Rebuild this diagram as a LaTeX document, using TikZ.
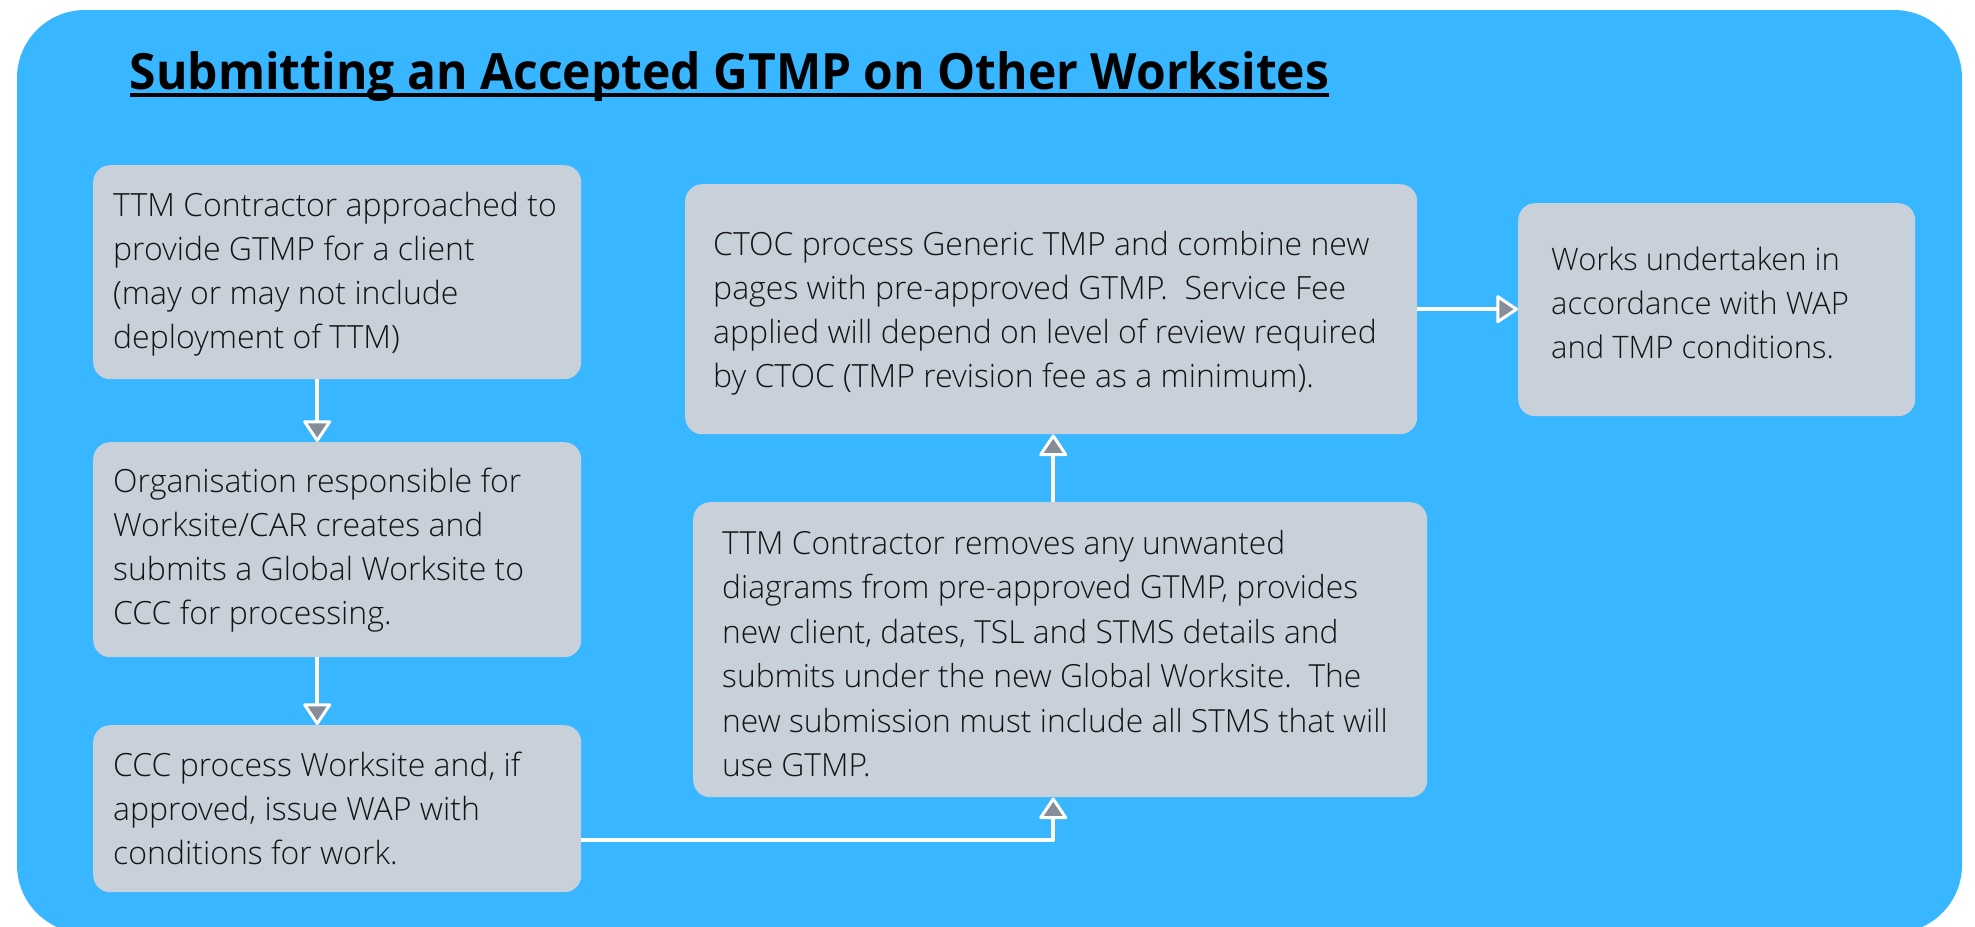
\documentclass[tikz,border=0pt]{standalone}
\usepackage{fontspec}
\IfFontExistsTF{Open Sans Light}
  {\setmainfont{Open Sans Light}[BoldFont={Open Sans Bold}]}
  {\setmainfont{Open Sans}}
\newfontfamily\titlefont{Open Sans}
\usetikzlibrary{arrows.meta}
\definecolor{bgblue}{HTML}{38B6FF}
\definecolor{boxgrey}{HTML}{C8D0DA}
\definecolor{tipgrey}{HTML}{868C98}
\definecolor{txtcol}{HTML}{141414}
\tikzset{
  stepbox/.style={draw=none, fill=boxgrey, rounded corners=17pt, inner sep=0pt, anchor=north west},
  txt/.style={anchor=west, align=left, inner sep=0pt, text=txtcol, font=\fontsize{32}{44}\selectfont},
  arr/.style={draw=white, line width=4pt, line join=round,
    -{Triangle[length=23pt, width=30pt, fill=tipgrey, line width=3pt, line join=round]}},
}
\begin{document}
\begin{tikzpicture}[x=1pt, y=-1pt]
\useasboundingbox (0,0) rectangle (1975,926);
\fill[bgblue, rounded corners=68pt] (17,10) rectangle (1962,933);

\node[anchor=base west, inner sep=0pt, font=\titlefont\fontsize{50}{60}\selectfont\bfseries] (title) at (129.5,89) {\scalebox{0.96}[1]{Submitting an Accepted GTMP on Other Worksites}};
\draw[black, line width=4pt] ([yshift=-6pt]title.base west) -- ([yshift=-6pt]title.base east);

\node[stepbox, minimum width=488pt, minimum height=214pt] (b1) at (93,165) {};
\node[stepbox, minimum width=488pt, minimum height=215pt] (b2) at (93,442) {};
\node[stepbox, minimum width=488pt, minimum height=167pt] (b3) at (93,725) {};
\node[stepbox, minimum width=734pt, minimum height=295pt] (b4) at (693,502) {};
\node[stepbox, minimum width=732pt, minimum height=250pt] (b5) at (685,184) {};
\node[stepbox, minimum width=397pt, minimum height=213pt] (b6) at (1518,203) {};

\node[txt] (t1) at ([xshift=20pt,yshift=-2pt]b1.west) {TTM Contractor approached to\\provide GTMP for a client\\(may or may not include\\deployment of TTM)};
\node[txt] (t2) at ([xshift=20pt]b2.west) {Organisation responsible for\\Worksite/CAR creates and\\submits a Global Worksite to\\CCC for processing.};
\node[txt] (t3) at ([xshift=20pt]b3.west) {CCC process Worksite and, if\\approved, issue WAP with\\conditions for work.};
\node[txt, font=\fontsize{31.8}{44.5}\selectfont] (t4) at ([xshift=29pt,yshift=-4pt]b4.west) {TTM Contractor removes any unwanted\\diagrams from pre-approved GTMP, provides\\new client, dates, TSL and STMS details and\\submits under the new Global Worksite.\ \ The\\new submission must include all STMS that will\\use GTMP.};
\node[txt] (t5) at ([xshift=28pt,yshift=-4pt]b5.west) {CTOC process Generic TMP and combine new\\pages with pre-approved GTMP.\ \ Service Fee\\applied will depend on level of review required\\by CTOC (TMP revision fee as a minimum).};
\node[txt, font=\fontsize{31}{44}\selectfont] (t6) at ([xshift=33pt,yshift=7pt]b6.west) {Works undertaken in\\accordance with WAP\\and TMP conditions.};

\draw[arr] ([xshift=-20pt]b1.south) -- ([xshift=-20pt]b2.north);
\draw[arr] ([xshift=-20pt]b2.south) -- ([xshift=-20pt]b3.north);
\draw[arr] ([yshift=-31.5pt]b3.east) -| ([xshift=-7pt]b4.south);
\draw[arr] ([xshift=-7pt]b4.north) -- ([xshift=-7pt]b4.north |- b5.south);
\draw[arr] (b5.east) -- (b5.east -| b6.west);
\end{tikzpicture}
\end{document}
